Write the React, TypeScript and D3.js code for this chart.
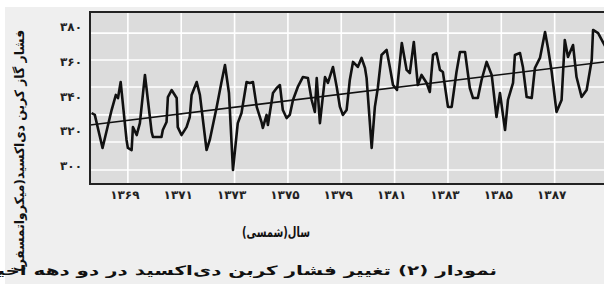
import React from "react";
import * as d3 from "d3";

// monthly-ish readings (solar years, micro-atmosphere)
const years = [
  1367.64, 1367.76, 1368.05, 1368.39, 1368.55, 1368.63, 1368.73, 1368.95, 1369.0, 1369.14,
  1369.19, 1369.33, 1369.45, 1369.64, 1369.75, 1369.89, 1369.94, 1370.26, 1370.31, 1370.45,
  1370.5, 1370.64, 1370.83, 1370.87, 1371.01, 1371.2, 1371.32, 1371.39, 1371.58, 1371.7,
  1371.95, 1372.07, 1372.33, 1372.51, 1372.64, 1372.79, 1372.94, 1373.12, 1373.26, 1373.45,
  1373.57, 1373.69, 1373.83, 1374.01, 1374.06, 1374.2, 1374.25, 1374.44, 1374.58, 1374.7,
  1374.81, 1374.95, 1375.07, 1375.19, 1375.37, 1375.56, 1375.75, 1375.89, 1376.01, 1376.08,
  1376.2, 1376.39, 1376.5, 1376.69, 1376.83, 1376.95, 1377.06, 1377.2, 1377.32, 1377.44,
  1377.62, 1377.76, 1377.89, 1377.95, 1378.14, 1378.26, 1378.37, 1378.51, 1378.7, 1378.82,
  1378.94, 1379.09, 1379.27, 1379.45, 1379.57, 1379.72, 1379.87, 1380.01, 1380.2, 1380.32,
  1380.44, 1380.57, 1380.7, 1380.81, 1381.0, 1381.14, 1381.32, 1381.45, 1381.64, 1381.82,
  1381.94, 1382.12, 1382.26, 1382.45, 1382.64, 1382.82, 1382.95, 1383.14, 1383.25, 1383.44,
  1383.51, 1383.7, 1383.81, 1383.95, 1384.14, 1384.26, 1384.45, 1384.64, 1384.75, 1384.89,
  1385.07, 1385.26, 1385.38, 1385.5, 1385.69, 1385.82, 1386.01, 1386.2, 1386.39, 1386.44,
  1386.63, 1386.77, 1386.93,
];
const pressure = [
  330.5, 329.4, 310.4, 332.2, 340.9, 339.1, 348.3, 315.0, 310.4, 309.2,
  322.4, 317.8, 324.7, 352.4, 338.0, 319.6, 316.7, 316.7, 320.7, 325.3,
  339.7, 343.7, 339.1, 322.4, 317.8, 322.4, 328.2, 340.9, 348.3, 340.9,
  309.2, 315.0, 334.0, 348.3, 358.1, 342.0, 297.7, 324.7, 330.5, 348.3,
  347.8, 348.3, 334.0, 325.3, 321.9, 329.4, 323.6, 342.0, 344.9, 346.6,
  332.2, 327.6, 329.4, 338.0, 345.5, 351.2, 350.6, 338.0, 331.1, 350.6,
  324.7, 351.2, 347.8, 357.0, 345.5, 334.0, 329.4, 332.2, 349.5, 359.9,
  357.0, 362.2, 356.4, 350.6, 310.4, 334.0, 344.9, 363.9, 366.8, 357.0,
  346.6, 343.8, 370.8, 355.3, 353.5, 371.4, 346.6, 352.4, 347.8, 342.6,
  363.9, 365.0, 355.3, 354.1, 334.0, 334.0, 354.1, 365.6, 365.6, 344.9,
  339.1, 339.1, 349.5, 359.9, 352.4, 328.2, 342.0, 320.7, 338.0, 347.8,
  363.9, 365.0, 357.0, 339.7, 339.1, 356.4, 362.2, 377.1, 367.9, 354.1,
  331.1, 338.0, 372.5, 362.7, 369.6, 351.2, 339.7, 343.7, 361.0, 378.3,
  376.5, 372.5, 367.9,
];

const trendYears = [1367.58, 1387.45];
const trendValues = [323.6, 361.0];

const yTicks = [300, 320, 340, 360, 380];
const yTickLabels = ["۳۰۰", "۳۲۰", "۳۴۰", "۳۶۰", "۳۸۰"];
const yGrid = [376.5, 361, 345.5, 329.4, 313.8, 297.7];

const xTicks = [1369, 1371, 1373, 1375, 1377, 1379, 1381, 1383, 1385];
const xTickLabels = ["۱۳۶۹", "۱۳۷۱", "۱۳۷۳", "۱۳۷۵", "۱۳۷۹", "۱۳۸۱", "۱۳۸۳", "۱۳۸۵", "۱۳۸۷"];

const yTitle = "فشار گاز کربن دی‌اکسید(میکرواتمسفر)";
const xTitle = "سال(شمسی)";
const caption = "نمودار (۲) تغییر فشار کربن دی‌اکسید در دو دهه اخیر";

const App = () => {
  const W = 604;
  const H = 284;
  const panel = { left: 90, top: 12, right: 622, bottom: 184 };
  const font = "'DejaVu Sans', sans-serif";

  const xScale = d3.scaleLinear().domain([1367.58, 1387.45]).range([90, 620]);
  const yScale = d3.scaleLinear().domain([300, 380]).range([166, 27]);

  const series = years.map((y, i) => [y, pressure[i]]);
  const trend = trendYears.map((y, i) => [y, trendValues[i]]);

  const line = d3
    .line()
    .x((d) => xScale(d[0]))
    .y((d) => yScale(d[1]));

  return (
    <div style={{ width: W, height: H, overflow: "hidden" }}>
      <style>{"body{margin:0}"}</style>
      <svg width={W} height={H} style={{ display: "block" }}>
        <rect x={0} y={0} width={W} height={H} fill="#ffffff" />
        <rect x={5} y={7} width={W - 5} height={H - 7} fill="#efefef" />

        <defs>
          <clipPath id="panel-clip">
            <rect
              x={panel.left}
              y={panel.top}
              width={panel.right - panel.left}
              height={panel.bottom - panel.top}
            />
          </clipPath>
        </defs>

        {/* panel */}
        <rect
          x={panel.left}
          y={panel.top}
          width={panel.right - panel.left}
          height={panel.bottom - panel.top}
          fill="#dcdcdc"
        />
        {yGrid.map((v) => (
          <line
            key={"gy" + v}
            x1={panel.left}
            x2={panel.right}
            y1={yScale(v)}
            y2={yScale(v)}
            stroke="#ffffff"
            strokeWidth={1.6}
          />
        ))}
        {xTicks.map((t) => (
          <line
            key={"gx" + t}
            x1={xScale(t)}
            x2={xScale(t)}
            y1={panel.top}
            y2={panel.bottom}
            stroke="#ffffff"
            strokeWidth={1.6}
          />
        ))}

        <g clipPath="url(#panel-clip)">
          <path
            d={line(trend) || ""}
            fill="none"
            stroke="#111"
            strokeWidth={1.6}
          />
          <path
            d={line(series) || ""}
            fill="none"
            stroke="#111"
            strokeWidth={2.6}
            strokeLinejoin="round"
          />
        </g>

        <rect
          x={panel.left}
          y={panel.top}
          width={panel.right - panel.left}
          height={panel.bottom - panel.top}
          fill="none"
          stroke="#222"
          strokeWidth={2}
        />

        {/* y tick labels */}
        {yTicks.map((t, i) => (
          <text
            key={"yt" + t}
            x={82}
            y={yScale(t)}
            dy="0.35em"
            textAnchor="end"
            fontFamily={font}
            fontWeight="bold"
            fontSize={12}
            letterSpacing={3}
            fill="#222"
          >
            {yTickLabels[i]}
          </text>
        ))}

        {/* x tick labels */}
        {xTicks.map((t, i) => (
          <text
            key={"xt" + t}
            x={xScale(t) - 3}
            y={195}
            dy="0.35em"
            textAnchor="middle"
            fontFamily={font}
            fontWeight="bold"
            fontSize={12}
            letterSpacing={4}
            fill="#222"
          >
            {xTickLabels[i]}
          </text>
        ))}

        <text
          x={276}
          y={232}
          dy="0.35em"
          textAnchor="middle"
          fontFamily={font}
          fontWeight="bold"
          fontSize={14}
          textLength={68}
          lengthAdjust="spacingAndGlyphs"
          fill="#111"
        >
          {xTitle}
        </text>

        <text
          transform="translate(19,151) rotate(-90)"
          textAnchor="middle"
          dy="0.35em"
          fontFamily={font}
          fontWeight="bold"
          fontSize={13}
          textLength={242}
          lengthAdjust="spacingAndGlyphs"
          fill="#111"
        >
          {yTitle}
        </text>

        <text
          x={241}
          y={270}
          dy="0.35em"
          textAnchor="middle"
          fontFamily={font}
          fontWeight="bold"
          fontSize={13}
          textLength={512}
          lengthAdjust="spacingAndGlyphs"
          fill="#111"
        >
          {caption}
        </text>
      </svg>
    </div>
  );
};

export default App;
